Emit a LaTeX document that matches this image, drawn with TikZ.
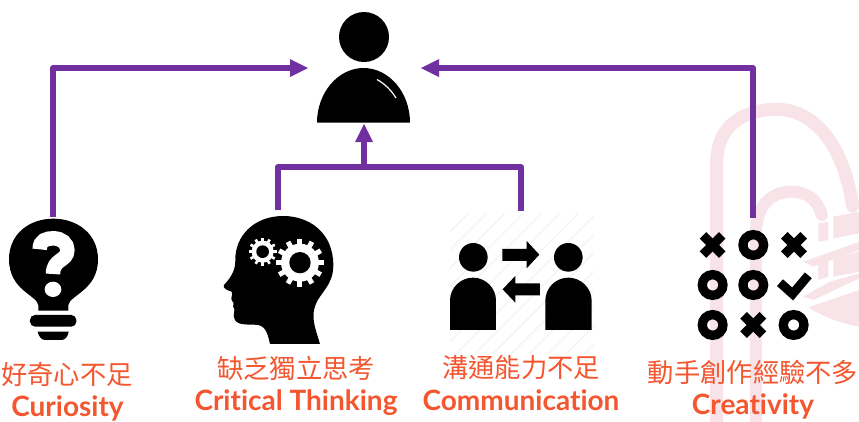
\documentclass[tikz,border=0pt]{standalone}
\usepackage{fontspec}
\setmainfont{Lato}[Ligatures=NoCommon]
\newfontfamily\cjk{Noto Sans CJK TC}
\definecolor{arrowpurple}{HTML}{7030A0}
\definecolor{labelred}{HTML}{F4562F}
\definecolor{wmpink}{HTML}{F7E3E8}
\definecolor{stripegray}{HTML}{F5F5F5}
\tikzset{
  link/.style={draw=arrowpurple,line width=6pt,line join=round},
  headtip/.style={fill=arrowpurple,draw=none},
  zh/.style={text=labelred,font=\cjk\fontsize{26.3}{26}\selectfont,inner sep=0pt},
  en/.style={text=labelred,anchor=base,font=\bfseries\fontsize{28}{28}\selectfont,inner sep=0pt},
  ink/.style={fill=black,draw=none},
  wm/.style={draw=wmpink,line width=13pt,line cap=round},
  wmfill/.style={fill=wmpink,draw=none},
  zoomA/.style={shift={(0,200)},x=.3333pt,y=-.3333pt},
  zoomB/.style={shift={(430,100)},x=.3333pt,y=-.3333pt},
}
\begin{document}
\begin{tikzpicture}[x=1pt,y=-1pt]
\useasboundingbox (0,0) rectangle (859,421);
\fill[white] (0,0) rectangle (859,421);
% watermark
\begin{scope}[zoomB]
 \draw[wm] (860,980) -- (860,190) .. controls (860,70) and (950,28) .. (1040,28) .. controls (1150,28) and (1240,130) .. (1268,318);
 \draw[wm,line width=12pt] (978,980) -- (978,400) .. controls (978,310) and (1030,275) .. (1085,275) .. controls (1130,275) and (1165,300) .. (1175,345);
 \fill[wmfill] (1165,370) -- (1195,365) -- (1195,420) -- (1165,425) -- cycle;
 \fill[wmfill] (1210,350) -- (1289,335) -- (1289,400) -- (1210,415) -- cycle;
 \fill[wmfill] (1120,485) -- (1289,425) -- (1289,450) -- (1150,500) -- cycle;
 \fill[wmfill] (1165,490) -- (1195,480) -- (1195,530) -- (1165,540) -- cycle;
 \fill[wmfill] (1210,475) -- (1289,455) -- (1289,515) -- (1210,530) -- cycle;
 \fill[wmfill] (1120,590) -- (1200,545) -- (1289,520) -- (1289,535) -- (1150,600) -- cycle;
 \fill[wmfill] (1135,622) -- (1289,570) -- (1289,680) .. controls (1230,670) and (1180,650) .. (1135,622) -- cycle;
\end{scope}
% stripes
\begin{scope}[zoomB]
 \clip (60,340) rectangle (490,760);
 \foreach \k in {0,...,16} \draw[stripegray,line width=1.6pt] (60+\k*55-420,760) -- (60+\k*55,340);
\end{scope}
% person
\node[circle,ink,minimum size=50pt,inner sep=0pt] (head) at (364,37) {};
\fill[black] (317,122.7) .. controls (317,92.5) and (338.3,68) .. (363.5,68) .. controls (389,68) and (410,92.5) .. (410,122.7) -- cycle;
\coordinate (body) at (364,124);
\coordinate (bodyL) at (308,68);
\coordinate (bodyR) at (421,68);
\draw[white,line width=1.2pt] (377,79.5) .. controls (385,84) and (391,90) .. (396,98);
% bulb
\begin{scope}[zoomA]
 \fill[black] (115,332) -- (115,315) .. controls (110,285) and (27,270) .. (27,178) .. controls (27,100) and (90,56) .. (160,56) .. controls (230,56) and (294,100) .. (294,178) .. controls (294,270) and (210,285) .. (205,315) -- (205,332) -- cycle;
 \fill[black,rounded corners=5pt] (90,345) rectangle (229,380);
 \fill[black] (113,395) -- (206,395) .. controls (204,410) and (195,420) .. (185,420) -- (135,420) .. controls (125,420) and (116,410) .. (113,395) -- cycle;
 \draw[white,line width=14.5pt] (119,148) .. controls (119,120) and (140,115) .. (160,115) .. controls (185,115) and (202,130) .. (202,150) .. controls (202,185) and (159,175) .. (159,222);
 \fill[white] (159,268) ellipse[x radius=25,y radius=23];
\end{scope}
\coordinate (bulbtop) at (53,217);
% brain head
\begin{scope}[zoomA]
 \fill[black] (810,432) -- (960,432) .. controls (945,380) and (925,340) .. (960,290) .. controls (990,250) and (1000,230) .. (1000,195) .. controls (1000,100) and (930,48) .. (850,48) .. controls (760,48) and (705,110) .. (706,180) .. controls (706,205) and (700,225) .. (672,255) .. controls (668,265) and (680,270) .. (695,275) .. controls (700,285) and (690,295) .. (696,302) .. controls (706,310) and (695,318) .. (702,325) .. controls (708,330) and (695,345) .. (705,360) .. controls (715,378) and (750,372) .. (775,375) .. controls (800,380) and (805,410) .. (810,432) -- cycle;
 \foreach \c/\r/\o/\h/\w in {900/188/72/32/15,788/155/42/19/8}{
  \fill[white] (\c,\r) circle[radius=\o*0.79];
  \foreach \a in {0,30,...,330}
   \draw[white,line width=\w*.3333pt] (\c,\r) -- ++(\a:\o);
  \fill[black] (\c,\r) circle[radius=\h];
 }
\end{scope}
\coordinate (braintop) at (278,210);
% communication icon
\begin{scope}[zoomB]
 \fill[black] (130,472) circle[radius=43];
 \fill[black] (415,472) circle[radius=43];
 \fill[black] (60,690) -- (60,602) .. controls (60,564) and (91,533) .. (129,533) .. controls (167,533) and (198,564) .. (198,602) -- (198,690) -- cycle;
 \fill[black] (346,690) -- (346,602) .. controls (346,564) and (377,533) .. (415,533) .. controls (453,533) and (485,564) .. (485,602) -- (485,690) -- cycle;
 \fill[black] (217,447) -- (290,447) -- (290,423) -- (328,464) -- (290,505) -- (290,483) -- (217,483) -- cycle;
 \fill[black] (330,550) -- (256,550) -- (256,528) -- (218,568) -- (256,608) -- (256,586) -- (330,586) -- cycle;
\end{scope}
\coordinate (commtop) at (521,210.5);
% creativity icon
\begin{scope}[zoomB]
 \foreach \x/\y in {970/435,848/555,970/555,848/675,1091/675}
  \draw[black,line width=9.3pt] (\x,\y) circle[radius=31];
 \foreach \x/\y in {848/435,1092/435,970/675}{
  \draw[black,line width=9.3pt] (\x-29,\y-29) -- (\x+29,\y+29);
  \draw[black,line width=9.3pt] (\x-29,\y+29) -- (\x+29,\y-29);
 }
 \draw[black,line width=9pt] (1050,548) -- (1088,582) -- (1135,526);
\end{scope}
\coordinate (creatop) at (753,217.5);
% connectors
\coordinate (junction) at (364,167);
\draw[link] (bulbtop) |- ([xshift=-16pt]bodyL);
\draw[link] (creatop) |- ([xshift=16pt]bodyR);
\draw[link] (braintop) |- (junction);
\draw[link] (commtop) |- (junction);
\draw[link] (junction) -- ([yshift=-17pt]body);
\fill[headtip] (bodyL) -- ++(-18,-9) -- ++(0,18) -- cycle;
\fill[headtip] (bodyR) -- ++(18,-9) -- ++(0,18) -- cycle;
\fill[headtip] (body) -- ++(-9,18) -- ++(18,0) -- cycle;
% labels
\node[zh] (l1) at (67,375) {好奇心不足};
\node[en] (e1) at (67.5,416) {Curiosity};
\node[zh] (l2) at (296,368) {缺乏獨立思考};
\node[en] (e2) at (296,410) {Critical Thinking};
\node[zh] (l3) at (521,368) {溝通能力不足};
\node[en] (e3) at (521,410.5) {Communication};
\node[zh] (l4) at (753,372) {動手創作經驗不多};
\node[en] (e4) at (753,414) {Creativity};
\end{tikzpicture}
\end{document}
